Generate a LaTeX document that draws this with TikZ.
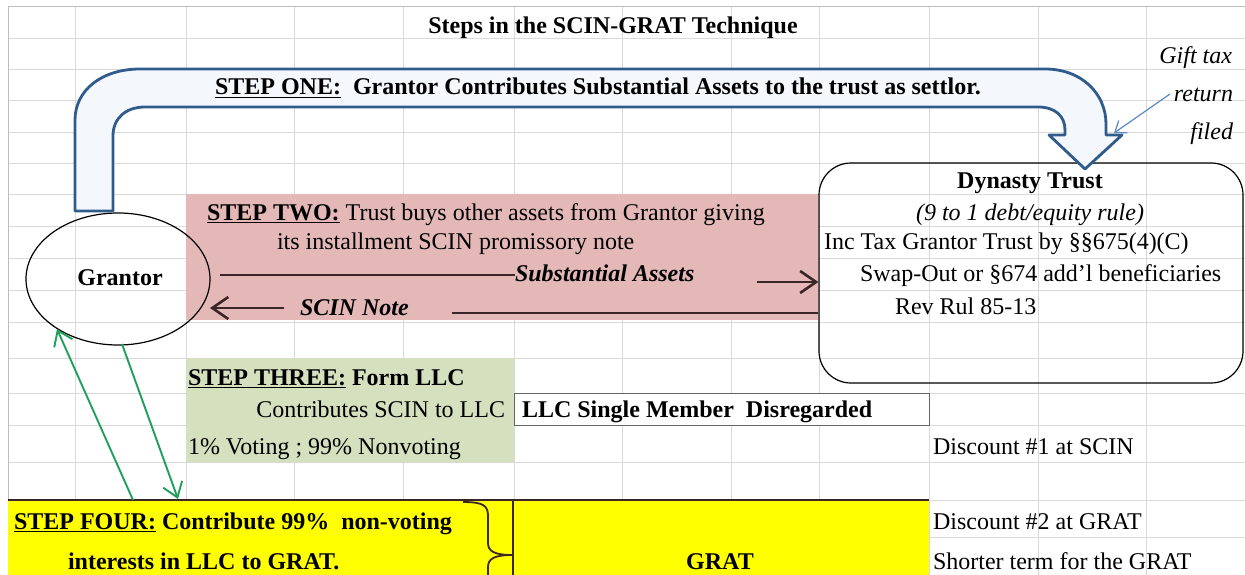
\documentclass[tikz,border=0pt]{standalone}
\usepackage{fontspec}
\setmainfont{Liberation Serif}
\usetikzlibrary{arrows.meta,shapes.geometric}

\definecolor{gridc}{HTML}{D9D9D9}
\definecolor{gridedge}{HTML}{BDBDBD}
\definecolor{pinkc}{HTML}{E3B8B7}
\definecolor{greenc}{HTML}{D5E0BF}
\definecolor{yellowc}{HTML}{FFFF00}
\definecolor{bandc}{HTML}{2F5C8A}
\definecolor{bandfill}{HTML}{F4F7FB}
\definecolor{greenarrow}{HTML}{1F9E5C}
\definecolor{darkline}{HTML}{3A2626}
\definecolor{thinblue}{HTML}{5B88C4}

\tikzset{
  txt/.style={inner sep=0pt, outer sep=0pt, font=\fontsize{24}{28}\selectfont},
  cellbox/.style={inner sep=0pt, outer sep=0pt},
  flowline/.style={draw=darkline, line width=2.8pt},
  flowarrow/.style={draw=darkline, line width=2.6pt, -{Straight Barb[length=16pt,width=22pt,line width=2.6pt]}},
  greenlink/.style={draw=greenarrow, line width=1.9pt, -{Straight Barb[length=14pt,width=20pt,line width=1.9pt]}},
  notearrow/.style={draw=thinblue, line width=1.2pt, -{Straight Barb[length=10pt,width=15pt,line width=1.2pt]}},
}

\begin{document}
\begin{tikzpicture}[x=1pt,y=-1pt]
\useasboundingbox (0,0) rectangle (1245,575);
\fill[white] (0,0) rectangle (1245,575);
\begin{scope}
\clip (0,0) rectangle (1245,575);

% spreadsheet grid
\foreach \gx in {75,186,294,403,514,622,731,819,929,1038,1146}
  \draw[gridc, line width=0.8pt] (\gx,7) -- (\gx,575);
\foreach \gy in {38,69,100,132,163,194,226,258,290,322,358,393,425,462,500,537}
  \draw[gridc, line width=0.8pt] (8,\gy) -- (1245,\gy);
\draw[gridedge, line width=1pt] (8,575) -- (8,7) -- (1245,7);

% coloured cell blocks
\node[cellbox, fill=pinkc, minimum width=632pt, minimum height=126pt] (steptwo) at (502,257) {};
\node[cellbox, fill=greenc, minimum width=328pt, minimum height=104pt] (stepthree) at (350,410) {};
\node[cellbox, fill=white, draw=gray!80!black, line width=1pt, minimum width=415pt, minimum height=32pt] (llc) at (721.5,409) {};
\node[cellbox, fill=yellowc, minimum width=921pt, minimum height=80pt] (stepfour) at (468.5,540) {};
\draw[darkline, line width=1.4pt] (stepfour.north west) -- (stepfour.north east);
\draw[darkline, line width=1.6pt] (513,500) -- (513,580);

% brace inside the yellow block
\draw[darkline, line width=1.8pt]
  (463,502) .. controls (484,502) and (488,506) .. (488,516) -- (488,543)
  .. controls (488,551) and (494,555) .. (512,555);
\draw[darkline, line width=1.8pt]
  (512,555) .. controls (494,555) and (488,559) .. (488,567) -- (488,580);

% dynasty trust and grantor
\node[draw=black, line width=1.2pt, rounded corners=32pt, minimum width=424pt, minimum height=220pt, inner sep=0pt] (trust) at (1031,273) {};
\node[draw=black, line width=1.2pt, ellipse, minimum width=184pt, minimum height=132pt, inner sep=0pt] (grantor) at (118,279) {};

% step one block arrow
\draw[bandc, line width=2.8pt, fill=bandfill, line join=round]
  (75,211) -- (75,120) .. controls (75,90) and (102,69) .. (140,69)
  -- (1045,69) .. controls (1082,69) and (1106,94) .. (1106,124)
  -- (1106,135) -- (1122,135) -- (1085,169) -- (1049,135) -- (1065,135)
  -- (1065,130) .. controls (1065,116) and (1055,107) .. (1038,107)
  -- (145,107) .. controls (126,107) and (113,118) .. (113,136)
  -- (113,211) -- cycle;
\end{scope}

% title
\node[txt, anchor=base, font=\fontsize{24}{28}\selectfont\bfseries] (title) at (613,34) {Steps in the SCIN-GRAT Technique};

% step one text
\node[txt, anchor=base west, font=\fontsize{24}{28}\selectfont\bfseries] (stepone) at (215,95) {\underline{STEP ONE:}\ \ Grantor Contributes Substantial Assets to the trust as settlor.};

% gift tax note
\node[txt, anchor=base east, font=\fontsize{24}{28}\selectfont\itshape] (gift) at (1232,64) {Gift tax};
\node[txt, anchor=base east, font=\fontsize{24}{28}\selectfont\itshape] (ret) at (1233,102) {return};
\node[txt, anchor=base east, font=\fontsize{24}{28}\selectfont\itshape] (filed) at (1233,140) {filed};
\coordinate (noteS) at (1170,94);
\coordinate (noteE) at (1114,133);
\draw[notearrow] (noteS) -- (noteE);

% dynasty trust text
\node[txt, anchor=base, font=\fontsize{24}{28}\selectfont\bfseries] (dt) at (1030,189) {Dynasty Trust};
\node[txt, anchor=base, font=\fontsize{24}{28}\selectfont\itshape] (rule) at (1030,220) {(9 to 1 debt/equity rule)};
\node[txt, anchor=base west] (inc) at (824,249) {Inc Tax Grantor Trust by §§675(4)(C)};
\node[txt, anchor=base west] (swap) at (860,281) {Swap-Out or §674 add'l beneficiaries};
\node[txt, anchor=base west] (rev) at (895,314) {Rev Rul 85-13};

% grantor
\node[txt, anchor=base, font=\fontsize{24}{28}\selectfont\bfseries] (gname) at (120,285) {Grantor};

% step two text and flows
\node[txt, anchor=base west] (s2a) at (207,220) {\textbf{\underline{STEP TWO:}} Trust buys other assets from Grantor giving};
\node[txt, anchor=base west] (s2b) at (277,249) {its installment SCIN promissory note};
\node[txt, anchor=base west, font=\fontsize{24}{28}\selectfont\bfseries\itshape] (sa) at (515,281) {Substantial Assets};
\node[txt, anchor=base west, font=\fontsize{24}{28}\selectfont\bfseries\itshape] (sn) at (300,315) {SCIN Note};
\coordinate (saStart) at (220,275);
\draw[flowline] (saStart) -- (saStart -| sa.west);
\coordinate (saArrow) at (757,282);
\draw[flowarrow] (saArrow) -- (saArrow -| trust.west);
\coordinate (snArrow) at (284,308);
\coordinate (snTip) at (210,308);
\draw[flowarrow] (snArrow) -- (snTip);
\coordinate (snLine) at (452,313);
\draw[flowline] (snLine) -- (snLine -| trust.west);

% step three
\node[txt, anchor=base west, font=\fontsize{24}{28}\selectfont\bfseries] (s3a) at (188,385) {\underline{STEP THREE:} Form LLC};
\node[txt, anchor=base east] (s3b) at (505,417) {Contributes SCIN to LLC};
\node[txt, anchor=base west] (s3c) at (188,454) {1\% Voting ; 99\% Nonvoting};
\node[txt, anchor=base west, font=\fontsize{24}{28}\selectfont\bfseries] (llctext) at (522,417) {LLC Single Member\ \ Disregarded};
\node[txt, anchor=base west] (d1) at (933,454) {Discount \#1 at SCIN};

% step four
\node[txt, anchor=base west, font=\fontsize{24}{28}\selectfont\bfseries] (s4a) at (14,529) {\underline{STEP FOUR:} Contribute 99\%\ \ non-voting};
\node[txt, anchor=base west, font=\fontsize{24}{28}\selectfont\bfseries] (s4b) at (68,569) {interests in LLC to GRAT.};
\node[txt, anchor=base, font=\fontsize{24}{28}\selectfont\bfseries] (grat) at (720,569) {GRAT};
\node[txt, anchor=base west] (d2) at (933,529) {Discount \#2 at GRAT};
\node[txt, anchor=base west] (short) at (933,569) {Shorter term for the GRAT};

% links between grantor and step four
\coordinate (upStart) at (133,500);
\coordinate (upEnd) at (57,329);
\draw[greenlink] (upStart) -- (upEnd);
\coordinate (downStart) at (122,344);
\coordinate (downEnd) at (178,499);
\draw[greenlink] (downStart) -- (downEnd);
\end{tikzpicture}
\end{document}
